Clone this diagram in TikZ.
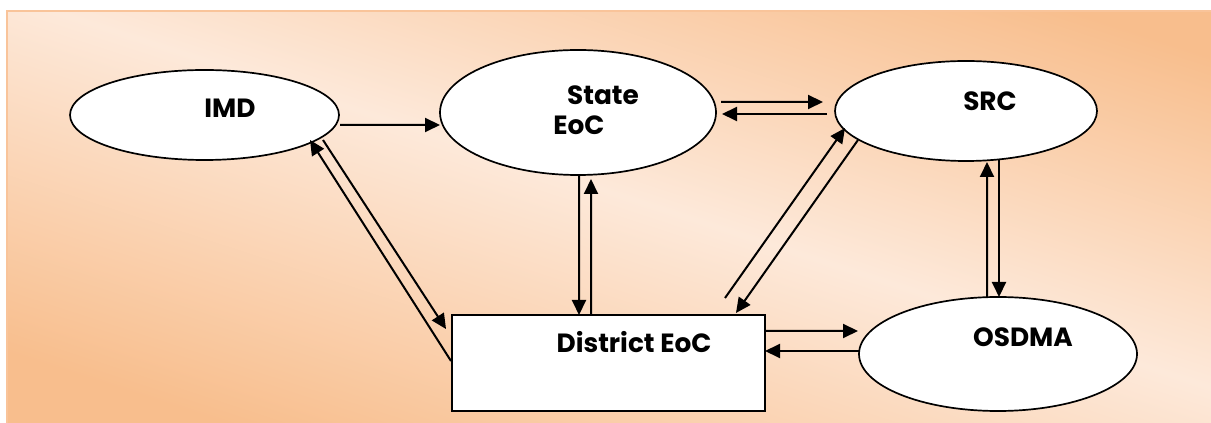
\documentclass[tikz,border=0pt]{standalone}
\usepackage{fontspec}
\setmainfont{Poppins}
\usetikzlibrary{arrows.meta,shapes.geometric}
\definecolor{peachdark}{HTML}{F8BE8D}
\definecolor{peachlight}{HTML}{FDE9DA}
\definecolor{peachedge}{HTML}{F9C49A}
\pgfdeclareverticalshading{peachband}{100bp}{color(0bp)=(peachdark); color(24bp)=(peachdark); color(52bp)=(peachlight); color(78bp)=(peachdark); color(100bp)=(peachdark)}
\begin{document}
\begin{tikzpicture}[
    unit/.style={draw, ellipse, fill=white, line width=0.034cm, inner sep=0pt, outer sep=0pt},
    office/.style={draw, rectangle, fill=white, line width=0.034cm, inner sep=0pt, outer sep=0pt},
    flow/.style={line width=0.040cm, -{Triangle[length=0.300000cm,width=0.280000cm]}},
    caption/.style={anchor=base, inner sep=0pt, font=\fontsize{15}{18}\selectfont\bfseries}
  ]
  \useasboundingbox (0.000000,0.000000) rectangle (24.220000,8.460000);
  {
  % Drawing background
  \shade [shading=peachband, shading angle=-18] (0.140000,0.000000) rectangle (24.220000,8.240000);%
  \draw [peachedge, line width=0.030cm] (0.140000,0.000000) -- (0.140000,8.240000) -- (24.220000,8.240000);%

  % Drawing ellipse IMD
  \node [unit, minimum width=5.380000cm, minimum height=1.800000cm] (imd) at (4.090000,6.160000) {};%
  \node [caption] (imdlabel) at (4.600000,6.100000) {IMD};%

  % Drawing ellipse State EoC
  \node [unit, minimum width=5.520000cm, minimum height=2.500000cm] (state) at (11.560000,6.210000) {};%
  \node [caption] (statelabel) at (12.060000,6.360000) {State};%
  \node [caption] (eoclabel) at (11.580000,5.760000) {EoC};%

  % Drawing ellipse SRC
  \node [unit, minimum width=5.240000cm, minimum height=2.000000cm] (src) at (19.320000,6.240000) {};%
  \node [caption] (srclabel) at (19.800000,6.240000) {SRC};%

  % Drawing ellipse OSDMA
  \node [unit, minimum width=5.560000cm, minimum height=2.280000cm] (osdma) at (19.960000,1.380000) {};%
  \node [caption] (osdmalabel) at (20.460000,1.520000) {OSDMA};%

  % Drawing box District EoC
  \node [office, minimum width=6.260000cm, minimum height=1.920000cm] (district) at (12.170000,1.200000) {};%
  \node [caption] (districtlabel) at (12.680000,1.400000) {District EoC};%

  % Drawing arrow IMD State
  \draw [flow] ([xshift=0.02cm,yshift=-0.20cm]imd.east) -- ([yshift=-0.25cm]state.west);%

  % Drawing arrows State SRC
  \draw [flow] ([xshift=0.10cm,yshift=0.21cm]state.east) -- ([xshift=-0.24cm,yshift=0.18cm]src.west);%
  \draw [flow] ([xshift=-0.16cm,yshift=-0.06cm]src.west) -- ([xshift=0.12cm,yshift=-0.03cm]state.east);%

  % Drawing arrows State District
  \draw [flow] ([xshift=0.02cm]state.south) -- ([xshift=-0.59cm]district.north);%
  \draw [flow] ([xshift=-0.35cm]district.north) -- ([xshift=0.26cm,yshift=-0.08cm]state.south);%

  % Drawing arrows IMD District
  \draw [flow] ([xshift=-0.02cm,yshift=0.04cm]district.west) -- ([xshift=-0.58cm,yshift=-0.50cm]imd.east);%
  \draw [flow] ([xshift=-0.32cm,yshift=-0.50cm]imd.east) -- ([xshift=-0.12cm,yshift=0.68cm]district.west);%

  % Drawing arrows SRC District
  \draw [flow] ([xshift=-0.80cm,yshift=0.34cm]district.north east) -- ([xshift=0.20cm,yshift=-0.34cm]src.west);%
  \draw [flow] ([xshift=0.46cm,yshift=-0.58cm]src.west) -- ([xshift=-0.58cm,yshift=0.04cm]district.north east);%

  % Drawing arrows SRC OSDMA
  \draw [flow] ([xshift=-0.22cm]osdma.north) -- ([xshift=0.42cm,yshift=-0.02cm]src.south);%
  \draw [flow] ([xshift=0.66cm,yshift=0.02cm]src.south) -- ([xshift=0.02cm]osdma.north);%

  % Drawing arrows District OSDMA
  \draw [flow] ([yshift=0.64cm]district.east) -- ([xshift=-0.02cm,yshift=0.46cm]osdma.west);%
  \draw [flow] ([yshift=0.06cm]osdma.west) -- ([yshift=0.24cm]district.east);%
  }
\end{tikzpicture}
\end{document}
